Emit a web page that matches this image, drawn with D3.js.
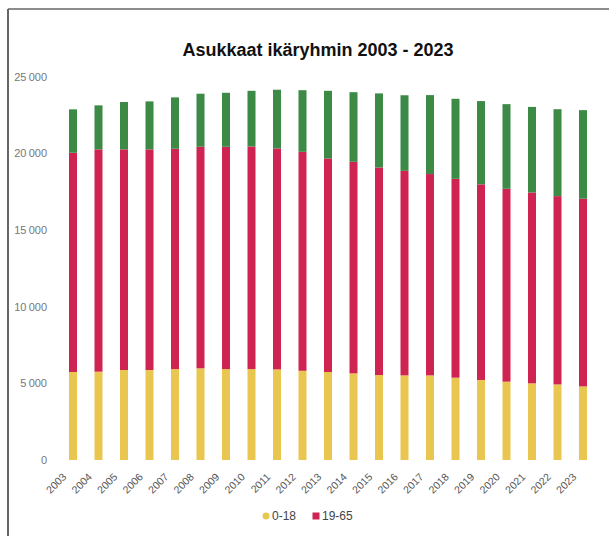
<!DOCTYPE html>
<html>
<head>
<meta charset="utf-8">
<script src="https://cdn.jsdelivr.net/npm/d3@7"></script>
<style>
  body { margin: 0; background: #fff; }
  svg { display: block; font-family: "Liberation Sans", Arial, sans-serif; }
</style>
</head>
<body>
<div id="chart"></div>
<script>
// data
const years = ["2003","2004","2005","2006","2007","2008","2009","2010","2011","2012","2013",
               "2014","2015","2016","2017","2018","2019","2020","2021","2022","2023"]
const lapset = [5740,5760,5870,5870,5930,5980,5930,5930,5910,5820,5740,5650,5540,5520,5520,5370,5220,5110,5000,4930,4800]
const tyoikaiset = [14300,14500,14390,14390,14370,14450,14500,14520,14410,14280,13930,13800,13540,13340,13130,12970,12760,12580,12450,12280,12240]
const vanhat = [2830,2870,3090,3130,3350,3460,3520,3630,3830,4020,4410,4540,4830,4930,5150,5220,5430,5520,5580,5670,5780]
const seriesNames = ["0-18", "19-65", "yli 65"]
const legendNames = ["0-18", "19-65"]
const yTicks = [0, 5000, 10000, 15000, 20000, 25000]

function draw() {
    const dims = { width: 609, height: 536 }

    const svg = d3.select("#chart")
        .append("svg")
        .attr("width", dims.width)
        .attr("height", dims.height)

    // frame lines (left + top)
    svg.append("line")
        .attr("x1", 8).attr("x2", 8).attr("y1", 9).attr("y2", dims.height)
        .attr("stroke", "#333").attr("stroke-width", 1.5)
    svg.append("line")
        .attr("x1", 8).attr("x2", dims.width).attr("y1", 9).attr("y2", 9)
        .attr("stroke", "#666").attr("stroke-width", 1.5)

    // title
    svg.append("text")
        .attr("x", 318)
        .attr("y", 56)
        .attr("text-anchor", "middle")
        .style("font-size", "18px")
        .style("font-weight", "bold")
        .style("fill", "#111")
        .text("Asukkaat ikäryhmin 2003 - 2023")

    const rows = years.map((y, i) => ({
        vuosi: y,
        "0-18": lapset[i],
        "19-65": tyoikaiset[i],
        "yli 65": vanhat[i]
    }))

    const color = d3.scaleOrdinal()
        .domain(seriesNames)
        .range(["#e9c650", "#cf2452", "#3d8a47"])

    const stacked = d3.stack().keys(seriesNames)(rows)

    const x = d3.scalePoint()
        .domain(years)
        .range([73, 583])

    const y = d3.scaleLinear()
        .domain([0, 25000])
        .range([460, 76.7])

    const barW = 8

    // y axis labels (no line, no ticks)
    const fi = d3.formatLocale({ decimal: ",", thousands: "\u2009", grouping: [3], currency: ["", " €"] })
    const yAxis = svg.append("g")
        .attr("transform", "translate(47,0)")
        .call(d3.axisLeft(y).tickValues(yTicks).tickSize(0).tickPadding(0).tickFormat(fi.format(",d")))
    yAxis.select(".domain").remove()
    yAxis.selectAll("text")
        .style("font-size", "11px")
        .style("fill", "#777")
        .style("font-family", "'Liberation Sans', Arial, sans-serif")

    // bars
    svg.append("g")
        .selectAll("g")
        .data(stacked)
        .join("g")
        .attr("fill", d => color(d.key))
        .selectAll("rect")
        .data(d => d)
        .join("rect")
        .attr("x", d => x(d.data.vuosi) - barW / 2)
        .attr("width", barW)
        .attr("y", d => y(d[1]))
        .attr("height", d => y(d[0]) - y(d[1]))

    // x axis labels rotated
    const xAxis = svg.append("g")
        .attr("transform", "translate(0,462)")
        .call(d3.axisBottom(x).tickSize(0).tickPadding(0))
    xAxis.select(".domain").remove()
    xAxis.selectAll("text")
        .attr("text-anchor", "end")
        .attr("dy", "0.35em")
        .attr("transform", "translate(-9,13) rotate(-45)")
        .style("font-size", "10.5px")
        .style("fill", "#555")
        .style("font-family", "'Liberation Sans', Arial, sans-serif")

    // legend
    const legend = svg.append("g").attr("transform", "translate(266,516)")
    const item = legend.selectAll("g")
        .data(legendNames)
        .join("g")
        .attr("transform", (d, i) => `translate(${i * 50},0)`)
    item.filter((d, i) => i === 0).append("circle")
        .attr("r", 3.5)
        .attr("fill", d => color(d))
    item.filter((d, i) => i > 0).append("rect")
        .attr("x", -3.5).attr("y", -3.5)
        .attr("width", 7).attr("height", 7)
        .attr("fill", d => color(d))
    item.append("text")
        .attr("x", 6)
        .attr("dy", "0.35em")
        .style("font-size", "12px")
        .style("fill", "#444")
        .text(d => d)
}
draw()
</script>
</body>
</html>
